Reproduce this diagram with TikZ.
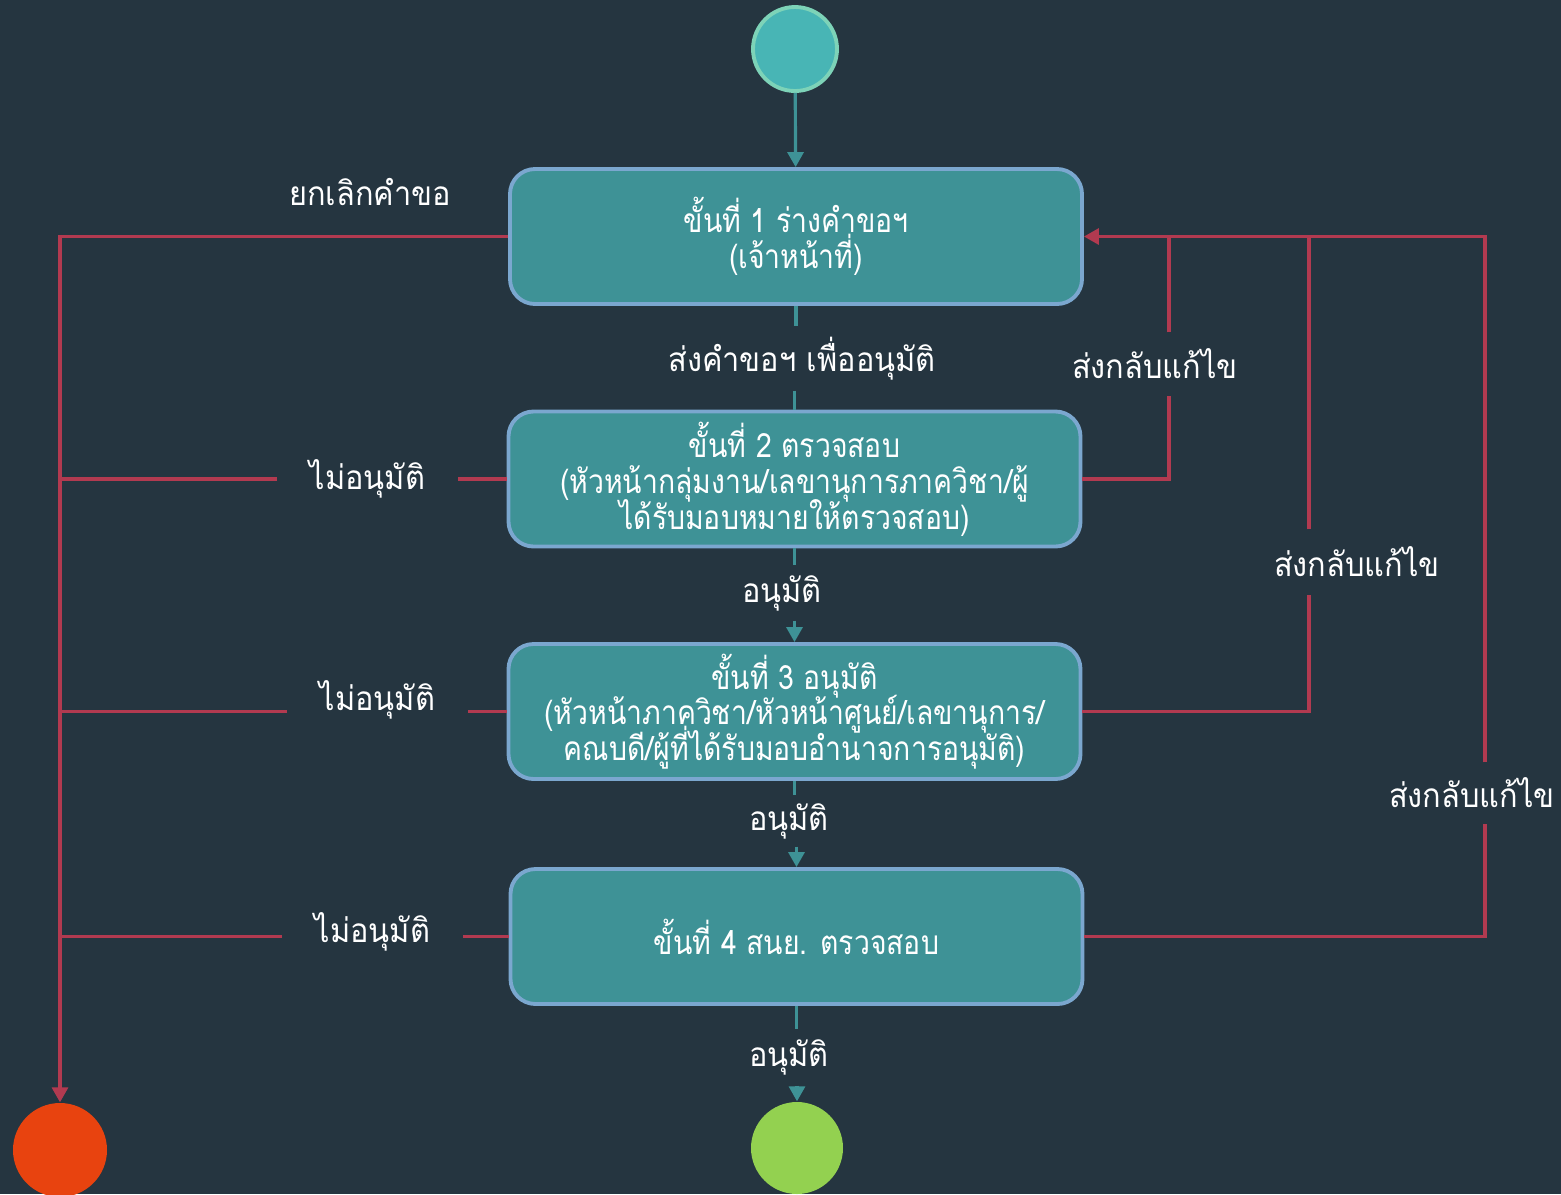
\documentclass[tikz,border=0pt]{standalone}
\usepackage{fontspec}
\newfontfamily\thaifont[Script=Thai, FakeStretch=0.92]{Loma}
\newfontfamily\thaiboxfont[Script=Thai, FakeStretch=0.85]{Loma}
\usetikzlibrary{arrows.meta, positioning}
\newcommand\tightlines{\lineskiplimit=-100pt\relax}

\definecolor{bgdark}{HTML}{253540}
\definecolor{stepfill}{HTML}{3E9296}
\definecolor{stepline}{HTML}{7BA7CF}
\definecolor{flowteal}{HTML}{3E9296}
\definecolor{backred}{HTML}{B23A50}
\definecolor{startfill}{HTML}{48B5B5}
\definecolor{startline}{HTML}{7DD3B8}
\definecolor{endred}{HTML}{E8430F}
\definecolor{endgreen}{HTML}{93D150}

\tikzset{
  thaitext/.style={text=white, font=\thaifont\fontsize{9.5}{10.3}\selectfont},
  stepbox/.style={text=white, font=\thaiboxfont\fontsize{9.5}{10.2}\selectfont,
    execute at begin node=\tightlines,
    draw=stepline, line width=1.1pt, fill=stepfill, inner ysep=1pt,
    rounded corners=0.25cm, minimum width=5.72cm, minimum height=1.35cm, align=center},
  hlbl/.style={thaitext, inner xsep=0.32cm, inner ysep=0pt},
  vlbl/.style={thaitext, inner sep=0pt, minimum height=#1},
  vlbl/.default=0.54cm,
  enddot/.style={circle, draw=none, inner sep=0pt},
  okflow/.style={draw=flowteal, line width=0.9pt},
  backflow/.style={draw=backred, line width=0.9pt},
  tip/.style={-{Triangle[width=0.16cm, length=0.15cm]}}
}

\begin{document}
\begin{tikzpicture}
\fill[bgdark] (0,0) rectangle (15.61,-11.94);
\useasboundingbox (0,0) rectangle (15.61,-11.94);

% start / end states
\node[circle, fill=startfill, draw=startline, line width=1.1pt, minimum size=0.84cm, inner sep=0pt] (start) at (7.95,-0.49) {};
\node[enddot, fill=endred, minimum size=0.94cm] (cancel) at (0.60,-11.50) {};
\node[enddot, fill=endgreen, minimum size=0.92cm] (done) at (7.97,-11.48) {};

% steps
\node[stepbox] (s1) at (7.96,-2.365) {ขั้นที่ 1 ร่างคำขอฯ\\(เจ้าหน้าที่)};
\node[stepbox] (s2) at (7.945,-4.79) {ขั้นที่ 2 ตรวจสอบ\\(หัวหน้ากลุ่มงาน/เลขานุการภาควิชา/ผู้\\ได้รับมอบหมายให้ตรวจสอบ)};
\node[stepbox] (s3) at (7.945,-7.115) {ขั้นที่ 3 อนุมัติ\\(หัวหน้าภาควิชา/หัวหน้าศูนย์/เลขานุการ/\\คณบดี/ผู้ที่ได้รับมอบอำนาจการอนุมัติ)};
\node[stepbox] (s4) at (7.965,-9.365) {ขั้นที่ 4 สนย. ตรวจสอบ};

% labels on the forward flow
\node[vlbl=0.63cm] (l12) at (8.02,-3.585) {ส่งคำขอฯ เพื่ออนุมัติ};
\node[vlbl] (l23) at (7.82,-5.93) {อนุมัติ};
\node[vlbl=0.50cm] (l34) at (7.89,-8.21) {อนุมัติ};
\node[vlbl=0.55cm] (l4e) at (7.89,-10.575) {อนุมัติ};

% labels on the way back
\node[thaitext] (lcancel) at (3.70,-1.92) {ยกเลิกคำขอ};
\node[hlbl] (n2) at (3.675,-4.79) {ไม่อนุมัติ};
\node[hlbl] (n3) at (3.775,-7.00) {ไม่อนุมัติ};
\node[hlbl] (n4) at (3.725,-9.32) {ไม่อนุมัติ};
\node[vlbl=0.62cm] (b2) at (11.55,-3.64) {ส่งกลับแก้ไข};
\node[vlbl=0.64cm] (b3) at (13.57,-5.62) {ส่งกลับแก้ไข};
\node[vlbl=0.60cm] (b4) at (14.72,-7.93) {ส่งกลับแก้ไข};

\coordinate (r2) at (11.69,-4.79);
\coordinate (r3) at (13.09,-7.115);
\coordinate (r4) at (14.85,-9.365);

% forward flow
\draw[okflow, tip] (start) -- (s1);
\draw[okflow] (s1.south) -- (s1.south |- l12.north);
\draw[okflow] (s2.north |- l12.south) -- (s2.north);
\draw[okflow] (s2.south) -- (s2.south |- l23.north);
\draw[okflow, tip] (s2.south |- l23.south) -- (s3.north);
\draw[okflow] (s3.south) -- (s3.south |- l34.north);
\draw[okflow, tip] (s4.north |- l34.south) -- (s4.north);
\draw[okflow] (s4.south) -- (s4.south |- l4e.north);
\draw[okflow, tip] (done.north |- l4e.south) -- (done.north);

% cancel / reject
\draw[backflow, tip] (s1.west) -- (cancel.north |- s1.west) -- (cancel.north);
\draw[backflow] (s2.west) -- (n2.east |- s2.west);
\draw[backflow] (n2.west |- s2.west) -- (cancel.north |- s2.west);
\draw[backflow] (s3.west) -- (n3.east |- s3.west);
\draw[backflow] (n3.west |- s3.west) -- (cancel.north |- s3.west);
\draw[backflow] (s4.west) -- (n4.east |- s4.west);
\draw[backflow] (n4.west |- s4.west) -- (cancel.north |- s4.west);

% send back for correction
\draw[backflow] (s2.east) -- (r2) -- (r2 |- b2.south);
\draw[backflow] (r2 |- b2.north) -- (r2 |- s1.east);
\draw[backflow] (s3.east) -- (r3) -- (r3 |- b3.south);
\draw[backflow] (r3 |- b3.north) -- (r3 |- s1.east);
\draw[backflow] (s4.east) -- (r4) -- (r4 |- b4.south);
\draw[backflow, tip] (r4 |- b4.north) -- (r4 |- s1.east) -- (s1.east);
\end{tikzpicture}
\end{document}
